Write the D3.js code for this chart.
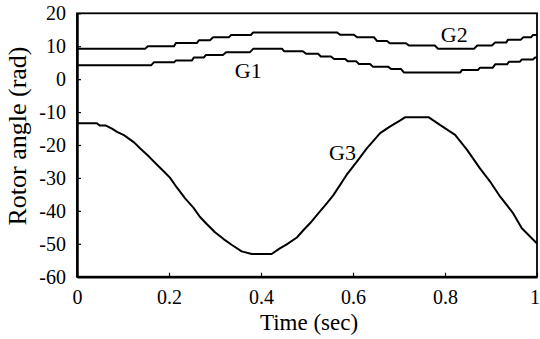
<!DOCTYPE html>
<html>
<head>
<meta charset="utf-8">
<script src="https://cdn.jsdelivr.net/npm/d3@7"></script>
<style>
  html, body { margin: 0; padding: 0; background: #fff; }
  svg { display: block; }
  svg text, .tick text { font-family: "Liberation Serif", serif !important; fill: #000; }
</style>
</head>
<body>
<svg id="chart" width="540" height="339"></svg>
<script>
// ---- data ----
const xTicks = [0, 0.2, 0.4, 0.6, 0.8, 1];
const xTickLabels = ["0", "0.2", "0.4", "0.6", "0.8", "1"];
const yTicks = [20, 10, 0, -10, -20, -30, -40, -50, -60];
const yTickLabels = ["20", "10", "0", "-10", "-20", "-30", "-40", "-50", "-60"];

const g1Time = [0, 0.161, 0.167, 0.211, 0.215, 0.250, 0.254, 0.276, 0.280, 0.317, 0.324, 0.376, 0.383,
  0.446, 0.450, 0.491, 0.498, 0.524, 0.530, 0.552, 0.559, 0.583, 0.589, 0.607, 0.613, 0.637, 0.643,
  0.676, 0.683, 0.704, 0.711, 0.833, 0.837, 0.872, 0.876, 0.904, 0.909, 0.935, 0.939, 0.963, 0.967,
  0.991, 0.996, 1.0];
const g1Angle = [4.2, 4.2, 5.1, 5.1, 5.7, 5.7, 6.6, 6.6, 7.3, 7.3, 8.2, 8.2, 9.2,
  9.2, 8.5, 8.5, 7.7, 7.7, 6.9, 6.9, 6.1, 6.1, 5.4, 5.4, 4.6, 4.6, 3.8,
  3.8, 3.1, 3.1, 2.0, 2.0, 2.8, 2.8, 3.5, 3.5, 4.5, 4.5, 5.3, 5.3, 6.0,
  6.0, 6.6, 6.6];

const g2Time = [0, 0.148, 0.154, 0.211, 0.215, 0.261, 0.265, 0.289, 0.296, 0.330, 0.335, 0.378, 0.383,
  0.565, 0.572, 0.602, 0.609, 0.646, 0.652, 0.674, 0.680, 0.715, 0.722, 0.778, 0.785, 0.863, 0.870,
  0.902, 0.909, 0.933, 0.937, 0.965, 0.970, 0.987, 0.991, 1.0];
const g2Angle = [9.2, 9.2, 10.0, 10.0, 11.0, 11.0, 11.8, 11.8, 12.7, 12.7, 13.4, 13.4, 14.2,
  14.2, 13.5, 13.5, 12.7, 12.7, 11.6, 11.6, 10.9, 10.9, 10.2, 10.2, 9.2, 9.2, 10.2,
  10.2, 11.1, 11.1, 12.0, 12.0, 12.7, 12.7, 13.4, 13.4];

const g3Time = [0, 0.043, 0.050, 0.063, 0.076, 0.087, 0.102, 0.124, 0.137, 0.157, 0.174, 0.190, 0.202,
  0.217, 0.235, 0.253, 0.267, 0.282, 0.300, 0.318, 0.336, 0.358, 0.380, 0.423, 0.441, 0.456, 0.478,
  0.492, 0.507, 0.525, 0.543, 0.557, 0.572, 0.586, 0.608, 0.630, 0.659, 0.680, 0.702, 0.713, 0.765,
  0.789, 0.822, 0.848, 0.876, 0.898, 0.920, 0.948, 0.967, 1.0];
const g3Angle = [-13.4, -13.4, -14.1, -14.1, -15.0, -16.0, -17.0, -19.2, -21.0, -23.6, -26.0, -28.2, -29.9,
  -32.9, -36.2, -39.0, -41.8, -44.0, -46.5, -48.5, -50.3, -52.3, -53.1, -53.1, -51.4, -50.2, -48.1,
  -45.9, -43.7, -40.7, -37.7, -35.3, -32.1, -29.1, -25.1, -21.0, -16.4, -14.4, -12.6, -11.6, -11.6,
  -13.9, -16.9, -21.5, -27.1, -31.1, -35.7, -40.7, -45.3, -49.9];

const labelNames = ["G1", "G2", "G3"];
const labelTime = [0.343, 0.791, 0.548];
const labelAngle = [0.5, 11.3, -24.6];

const xTitle = "Time (sec)";
const yTitle = "Rotor angle (rad)";

// ---- layout ----
const W = 540, H = 339;
const margin = { left: 77, right: 3, top: 13.3, bottom: 62.3 };
const serif = "Liberation Serif";
const svg = d3.select("#chart");

const x = d3.scaleLinear().domain([0, 1]).range([margin.left, W - margin.right]);
const y = d3.scaleLinear().domain([-60, 20]).range([H - margin.bottom, margin.top]);

// box (top and right)
svg.append("rect")
  .attr("x", x(0)).attr("y", y(20))
  .attr("width", x(1) - x(0)).attr("height", y(-60) - y(20))
  .attr("fill", "none").attr("stroke", "#000").attr("stroke-width", 1.8);

// axes with inward ticks
const xAxis = d3.axisBottom(x).tickValues(xTicks)
  .tickFormat((d, i) => xTickLabels[i]).tickSizeInner(-4).tickSizeOuter(0).tickPadding(13);
const yAxis = d3.axisLeft(y).tickValues(yTicks)
  .tickFormat((d, i) => yTickLabels[i]).tickSizeInner(-4).tickSizeOuter(0).tickPadding(11);

const gx = svg.append("g").attr("transform", `translate(0,${y(-60)})`).call(xAxis);
const gy = svg.append("g").attr("transform", `translate(${x(0)},0)`).call(yAxis);

[gx, gy].forEach(g => {
  g.attr("font-family", serif).attr("font-size", 20);
  g.select(".domain").attr("stroke", "#000").attr("stroke-width", 2.5);
  g.selectAll(".tick line").attr("stroke", "#000").attr("stroke-width", 1.2);
  g.selectAll(".tick text").attr("fill", "#000")
    .attr("font-family", serif).attr("font-size", 20);
});
// keep the last x label inside the canvas
gx.selectAll(".tick text").filter(d => d === 1).attr("dx", -2.5);

// series
const line = d3.line().x(d => x(d[0])).y(d => y(d[1]));
const series = [
  d3.zip(g1Time, g1Angle),
  d3.zip(g2Time, g2Angle),
  d3.zip(g3Time, g3Angle)
];
svg.append("g").selectAll("path").data(series).join("path")
  .attr("d", line)
  .attr("fill", "none").attr("stroke", "#000").attr("stroke-width", 2)
  .attr("stroke-linejoin", "round");

// labels
svg.append("g").selectAll("text").data(labelNames).join("text")
  .attr("x", (d, i) => x(labelTime[i]))
  .attr("y", (d, i) => y(labelAngle[i]))
  .attr("font-family", serif).attr("font-size", 22)
  .text(d => d);

// axis titles
svg.append("text")
  .attr("x", (x(0) + x(1)) / 2 + 2).attr("y", 330)
  .attr("text-anchor", "middle")
  .attr("font-family", serif).attr("font-size", 23)
  .text(xTitle);

svg.append("text")
  .attr("transform", `translate(26,${(y(-60) + y(20)) / 2 - 9}) rotate(-90)`)
  .attr("text-anchor", "middle")
  .attr("font-family", serif).attr("font-size", 26)
  .text(yTitle);
</script>
</body>
</html>
